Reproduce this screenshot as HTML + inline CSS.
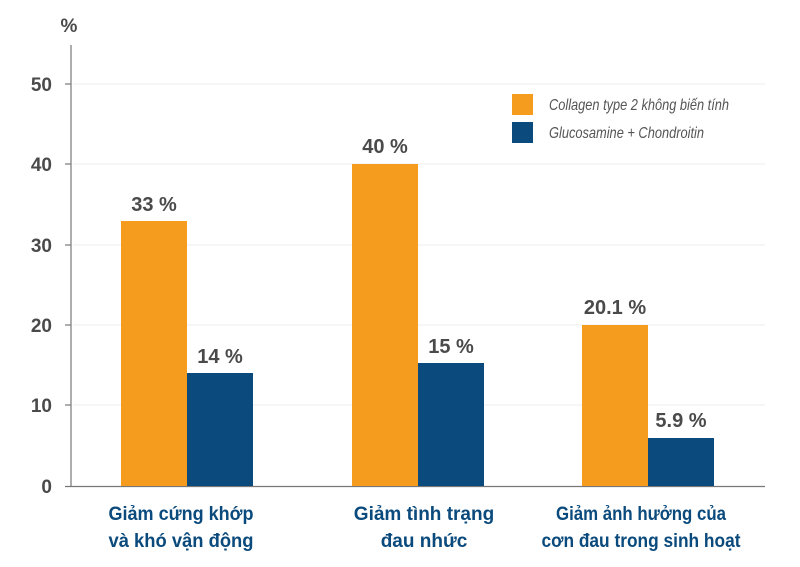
<!DOCTYPE html>
<html><head><meta charset="utf-8"><style>body{margin:0;background:#fff}</style></head><body>
<svg width="800" height="562" xmlns="http://www.w3.org/2000/svg" font-family="Liberation Sans, sans-serif">
<g stroke="#ececec" stroke-width="1">
<line x1="73" y1="84" x2="765" y2="84"/><line x1="73" y1="164" x2="765" y2="164"/>
<line x1="73" y1="245" x2="765" y2="245"/><line x1="73" y1="325" x2="765" y2="325"/>
<line x1="73" y1="405" x2="765" y2="405"/>
</g>
<g stroke="#777" stroke-width="1.2">
<line x1="71" y1="45" x2="71" y2="486"/><line x1="65" y1="486.5" x2="765" y2="486.5"/>
<line x1="65" y1="84" x2="71" y2="84"/><line x1="65" y1="164" x2="71" y2="164"/>
<line x1="65" y1="245" x2="71" y2="245"/><line x1="65" y1="325" x2="71" y2="325"/>
<line x1="65" y1="405" x2="71" y2="405"/>
</g>
<g font-size="19" font-weight="bold" fill="#4a4a4a" text-anchor="end">
<text x="69" y="32" text-anchor="middle">%</text>
<text x="52" y="91">50</text><text x="52" y="171">40</text><text x="52" y="252">30</text>
<text x="52" y="332">20</text><text x="52" y="412">10</text><text x="52" y="493">0</text>
</g>
<g fill="#f59c1f">
<rect x="121" y="221" width="66" height="265"/><rect x="352" y="164" width="66" height="322"/><rect x="582" y="325" width="66" height="161"/>
<rect x="512" y="94" width="21" height="21"/>
</g>
<g fill="#0b4a7c">
<rect x="187" y="373" width="66" height="113"/><rect x="418" y="363" width="66" height="123"/><rect x="648" y="438" width="66" height="48"/>
<rect x="512" y="122" width="21" height="21"/>
</g>
<g font-size="20" font-weight="bold" fill="#4a4a4a" text-anchor="middle">
<text x="154" y="211">33 %</text><text x="220" y="363">14 %</text>
<text x="385" y="153">40 %</text><text x="451" y="353">15 %</text>
<text x="615" y="314">20.1 %</text><text x="681" y="427">5.9 %</text>
</g>
<g font-size="16" font-style="italic" fill="#555">
<text x="549" y="110" textLength="180" lengthAdjust="spacingAndGlyphs">Collagen type 2 không biến tính</text>
<text x="549" y="138" textLength="155" lengthAdjust="spacingAndGlyphs">Glucosamine + Chondroitin</text>
</g>
<g font-size="19" font-weight="bold" fill="#0b4a7c" text-anchor="middle">
<text x="181" y="520" textLength="145" lengthAdjust="spacingAndGlyphs">Giảm cứng khớp</text><text x="181" y="547" textLength="145" lengthAdjust="spacingAndGlyphs">và khó vận động</text>
<text x="424" y="520">Giảm tình trạng</text><text x="424" y="547">đau nhức</text>
<text x="641" y="520" textLength="170" lengthAdjust="spacingAndGlyphs">Giảm ảnh hưởng của</text><text x="641" y="547" textLength="199" lengthAdjust="spacingAndGlyphs">cơn đau trong sinh hoạt</text>
</g>
</svg>
</body></html>
